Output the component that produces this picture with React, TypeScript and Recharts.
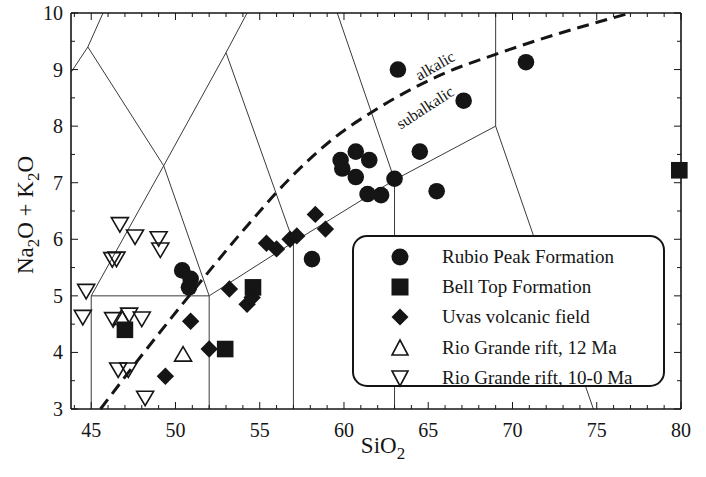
import React from 'react';
import { ComposedChart, XAxis, YAxis, Line, Scatter, Legend, ReferenceDot } from 'recharts';

// ---------- data ----------
const rubioPeak = [
  { x: 50.4, y: 5.45 }, { x: 50.9, y: 5.3 }, { x: 50.8, y: 5.15 },
  { x: 58.1, y: 5.65 }, { x: 59.8, y: 7.4 }, { x: 59.9, y: 7.25 },
  { x: 60.7, y: 7.55 }, { x: 61.5, y: 7.4 }, { x: 60.7, y: 7.1 },
  { x: 61.4, y: 6.8 }, { x: 62.2, y: 6.78 }, { x: 63.0, y: 7.07 },
  { x: 63.2, y: 9.0 }, { x: 64.5, y: 7.55 }, { x: 65.5, y: 6.85 },
  { x: 67.1, y: 8.45 }, { x: 70.8, y: 9.13 },
];
const bellTop = [
  { x: 47.0, y: 4.4 }, { x: 52.95, y: 4.06 }, { x: 54.6, y: 5.15 }, { x: 79.9, y: 7.22 },
];
const uvas = [
  { x: 49.4, y: 3.58 }, { x: 50.9, y: 4.55 }, { x: 52.0, y: 4.06 }, { x: 53.2, y: 5.12 },
  { x: 54.25, y: 4.85 }, { x: 54.55, y: 4.97 }, { x: 55.4, y: 5.93 }, { x: 56.0, y: 5.83 },
  { x: 56.8, y: 6.0 }, { x: 57.2, y: 6.06 }, { x: 58.3, y: 6.44 }, { x: 58.9, y: 6.18 },
];
const rgr12 = [
  { x: 46.8, y: 4.62 }, { x: 50.45, y: 3.97 },
];
const rgr10 = [
  { x: 46.7, y: 6.26 }, { x: 47.6, y: 6.04 }, { x: 49.0, y: 6.01 }, { x: 49.1, y: 5.81 },
  { x: 46.25, y: 5.64 }, { x: 46.5, y: 5.65 }, { x: 44.7, y: 5.08 }, { x: 44.5, y: 4.62 },
  { x: 46.3, y: 4.58 }, { x: 47.25, y: 4.66 }, { x: 48.0, y: 4.59 }, { x: 46.6, y: 3.69 },
  { x: 47.2, y: 3.69 }, { x: 48.2, y: 3.19 },
];

// TAS field boundaries
const tasLines = [
  [{ x: 43.8, y: 8.95 }, { x: 44.8, y: 9.4 }, { x: 45.7, y: 10 }],
  [{ x: 44.8, y: 9.4 }, { x: 49.3, y: 7.3 }, { x: 52, y: 5 }],
  [{ x: 45, y: 3 }, { x: 45, y: 5 }, { x: 49.3, y: 7.3 }, { x: 53, y: 9.3 }, { x: 54.25, y: 10 }],
  [{ x: 45, y: 5 }, { x: 52, y: 5 }],
  [{ x: 52, y: 3 }, { x: 52, y: 5 }, { x: 57, y: 5.95 }, { x: 63, y: 7.05 }, { x: 69, y: 8 }],
  [{ x: 53, y: 9.3 }, { x: 57, y: 5.95 }, { x: 57, y: 3 }],
  [{ x: 59.6, y: 10 }, { x: 63, y: 7.05 }, { x: 63, y: 3 }],
  [{ x: 69, y: 8 }, { x: 69, y: 10 }],
  [{ x: 69, y: 8 }, { x: 74.8, y: 3 }],
];

// alkalic / subalkalic divide
const alkalineDivide = [
  { x: 45.55, y: 3 }, { x: 48, y: 3.95 }, { x: 50.7, y: 4.96 }, { x: 54, y: 6.15 },
  { x: 56.8, y: 7.08 }, { x: 59.8, y: 7.88 }, { x: 61.5, y: 8.22 }, { x: 66, y: 8.94 },
  { x: 69, y: 9.27 }, { x: 71.6, y: 9.53 }, { x: 77, y: 10 },
];

const xTicks = [44, 45, 46, 47, 48, 49, 50, 51, 52, 53, 54, 55, 56, 57, 58, 59, 60, 61, 62, 63, 64, 65, 66, 67, 68, 69, 70, 71, 72, 73, 74, 75, 76, 77, 78, 79, 80];
const yTicks = [3, 3.5, 4, 4.5, 5, 5.5, 6, 6.5, 7, 7.5, 8, 8.5, 9, 9.5, 10];
const seriesNames = ['Rubio Peak Formation', 'Bell Top Formation', 'Uvas volcanic field', 'Rio Grande rift, 12 Ma', 'Rio Grande rift, 10-0 Ma'];

// ---------- styling ----------
const FONT = '"Liberation Serif", "Times New Roman", serif';
const INK = '#151515';

const CircleShape = (p: any) => <circle cx={p.cx} cy={p.cy} r={8.3} fill={INK} />;
const SquareShape = (p: any) => <rect x={p.cx - 8.3} y={p.cy - 8.3} width={16.6} height={16.6} fill={INK} />;
const DiamondShape = (p: any) => (
  <polygon points={`${p.cx},${p.cy - 8.7} ${p.cx + 8.7},${p.cy} ${p.cx},${p.cy + 8.7} ${p.cx - 8.7},${p.cy}`} fill={INK} />
);
const TriUpShape = (p: any) => (
  <polygon points={`${p.cx},${p.cy - 7.5} ${p.cx + 8.5},${p.cy + 7} ${p.cx - 8.5},${p.cy + 7}`} fill="none" stroke={INK} strokeWidth={1.6} />
);
const TriDownShape = (p: any) => (
  <polygon points={`${p.cx - 8.5},${p.cy - 7} ${p.cx + 8.5},${p.cy - 7} ${p.cx},${p.cy + 7.5}`} fill="none" stroke={INK} strokeWidth={1.6} />
);

const BottomTick = (p: any) => {
  const v = p.payload.value;
  const major = v % 5 === 0;
  return (
    <g>
      <line x1={p.x} x2={p.x} y1={p.y} y2={p.y - (major ? 7 : 4)} stroke={INK} strokeWidth={1} />
      {major && (
        <text x={p.x} y={p.y + 28} textAnchor="middle" fontFamily={FONT} fontSize={20} fill={INK}>{v}</text>
      )}
    </g>
  );
};
const TopTick = (p: any) => {
  const major = p.payload.value % 5 === 0;
  return <line x1={p.x} x2={p.x} y1={p.y} y2={p.y + (major ? 7 : 4)} stroke={INK} strokeWidth={1} />;
};
const LeftTick = (p: any) => {
  const v = p.payload.value;
  const major = Number.isInteger(v);
  return (
    <g>
      <line x1={p.x} x2={p.x + (major ? 7 : 4)} y1={p.y} y2={p.y} stroke={INK} strokeWidth={1} />
      {major && (
        <text x={p.x - 8} y={p.y} dy="0.35em" textAnchor="end" fontFamily={FONT} fontSize={20} fill={INK}>{v}</text>
      )}
    </g>
  );
};
const RightTick = (p: any) => {
  const major = Number.isInteger(p.payload.value);
  return <line x1={p.x} x2={p.x - (major ? 7 : 4)} y1={p.y} y2={p.y} stroke={INK} strokeWidth={1} />;
};

const XTitle = (p: any) => {
  const vb = p.viewBox;
  return (
    <text x={vb.x + vb.width / 2 + 7} y={vb.y + 44} textAnchor="middle" fontFamily={FONT} fontSize={23} fill={INK}>
      SiO<tspan dy={6} fontSize={17}>2</tspan>
    </text>
  );
};
const YTitle = (p: any) => {
  const vb = p.viewBox;
  const cx = vb.x + 25;
  const cy = vb.y + vb.height / 2 + 4;
  return (
    <text x={cx} y={cy} transform={`rotate(-90, ${cx}, ${cy})`} textAnchor="middle" fontFamily={FONT} fontSize={23} fill={INK}>
      Na<tspan dy={6} fontSize={17}>2</tspan><tspan dy={-6}>O + K</tspan><tspan dy={6} fontSize={17}>2</tspan><tspan dy={-6}>O</tspan>
    </text>
  );
};

const rotLabel = (txt: string, angle: number) => (p: any) => (
  <text x={p.cx} y={p.cy} dy="0.35em" transform={`rotate(${angle}, ${p.cx}, ${p.cy})`} textAnchor="middle" fontFamily={FONT} fontSize={16} fill={INK}>
    {txt}
  </text>
);

const legendIcons = [
  <circle cx={10} cy={10} r={8.5} fill={INK} />,
  <rect x={1.5} y={1.5} width={17} height={17} fill={INK} />,
  <polygon points="10,1.5 18.5,10 10,18.5 1.5,10" fill={INK} />,
  <polygon points="10,2 18,17 2,17" fill="none" stroke={INK} strokeWidth={1.6} />,
  <polygon points="2,3 18,3 10,18" fill="none" stroke={INK} strokeWidth={1.6} />,
];

const LegendBox = () => (
  <div
    style={{
      boxSizing: 'border-box', width: 313, height: 152, border: `2.5px solid ${INK}`, borderRadius: 15,
      background: '#fff', padding: '5px 0 0 0', fontFamily: FONT, fontSize: 19, color: INK,
    }}
  >
    {seriesNames.map((n, i) => (
      <div key={n} style={{ display: 'flex', alignItems: 'center', height: 30.2 }}>
        <svg width={20} height={20} style={{ marginLeft: 36, marginRight: 32, flex: 'none' }}>{legendIcons[i]}</svg>
        <span style={{ whiteSpace: 'nowrap' }}>{n}</span>
      </div>
    ))}
  </div>
);

export default function App() {
  return (
    <div style={{ position: 'absolute', left: 0, top: 0, width: 706, height: 477 }}>
      <ComposedChart width={706} height={477} margin={{ top: 12, right: 24, bottom: 8, left: 8 }}>
        <XAxis
          xAxisId={0} type="number" dataKey="x" domain={[43.8, 80]} ticks={xTicks} interval={0}
          height={60} tickSize={0} tickMargin={0} tickLine={false} tick={<BottomTick />}
          axisLine={{ stroke: INK, strokeWidth: 1.6 }} label={<XTitle />}
        />
        <XAxis
          xAxisId="top" orientation="top" type="number" dataKey="x" domain={[43.8, 80]} ticks={xTicks} interval={0}
          height={1} tickSize={0} tickMargin={0} tickLine={false} tick={<TopTick />}
          axisLine={{ stroke: INK, strokeWidth: 1.6 }}
        />
        <YAxis
          yAxisId={0} type="number" dataKey="y" domain={[3, 10]} ticks={yTicks} interval={0}
          width={63} tickSize={0} tickMargin={0} tickLine={false} tick={<LeftTick />}
          axisLine={{ stroke: INK, strokeWidth: 1.6 }} label={<YTitle />}
        />
        <YAxis
          yAxisId="right" orientation="right" type="number" dataKey="y" domain={[3, 10]} ticks={yTicks} interval={0}
          width={1} tickSize={0} tickMargin={0} tickLine={false} tick={<RightTick />}
          axisLine={{ stroke: INK, strokeWidth: 1.6 }}
        />

        {tasLines.map((seg, i) => (
          <Line key={`tas${i}`} xAxisId="top" yAxisId="right" data={seg} dataKey="y" type="linear" stroke="#3a3a3a" strokeWidth={1}
            dot={false} activeDot={false} legendType="none" isAnimationActive={false} />
        ))}
        <Line xAxisId="top" yAxisId="right" data={alkalineDivide} dataKey="y" type="monotone" stroke={INK} strokeWidth={3}
          strokeDasharray="12 7" dot={false} activeDot={false} legendType="none" isAnimationActive={false} />

        <ReferenceDot x={65.4} y={9.07} r={0} shape={rotLabel('alkalic', -30)} />
        <ReferenceDot x={64.8} y={8.33} r={0} shape={rotLabel('subalkalic', -33)} />

        <Scatter name={seriesNames[0]} data={rubioPeak} shape={<CircleShape />} isAnimationActive={false} />
        <Scatter name={seriesNames[1]} data={bellTop} shape={<SquareShape />} isAnimationActive={false} />
        <Scatter name={seriesNames[2]} data={uvas} shape={<DiamondShape />} isAnimationActive={false} />
        <Scatter name={seriesNames[3]} data={rgr12} shape={<TriUpShape />} isAnimationActive={false} />
        <Scatter name={seriesNames[4]} data={rgr10} shape={<TriDownShape />} isAnimationActive={false} />

        <Legend
          layout="vertical" align="center" verticalAlign="middle" content={<LegendBox />}
          wrapperStyle={{ left: 352, top: 235, width: 313, height: 152 }}
        />
      </ComposedChart>
    </div>
  );
}
